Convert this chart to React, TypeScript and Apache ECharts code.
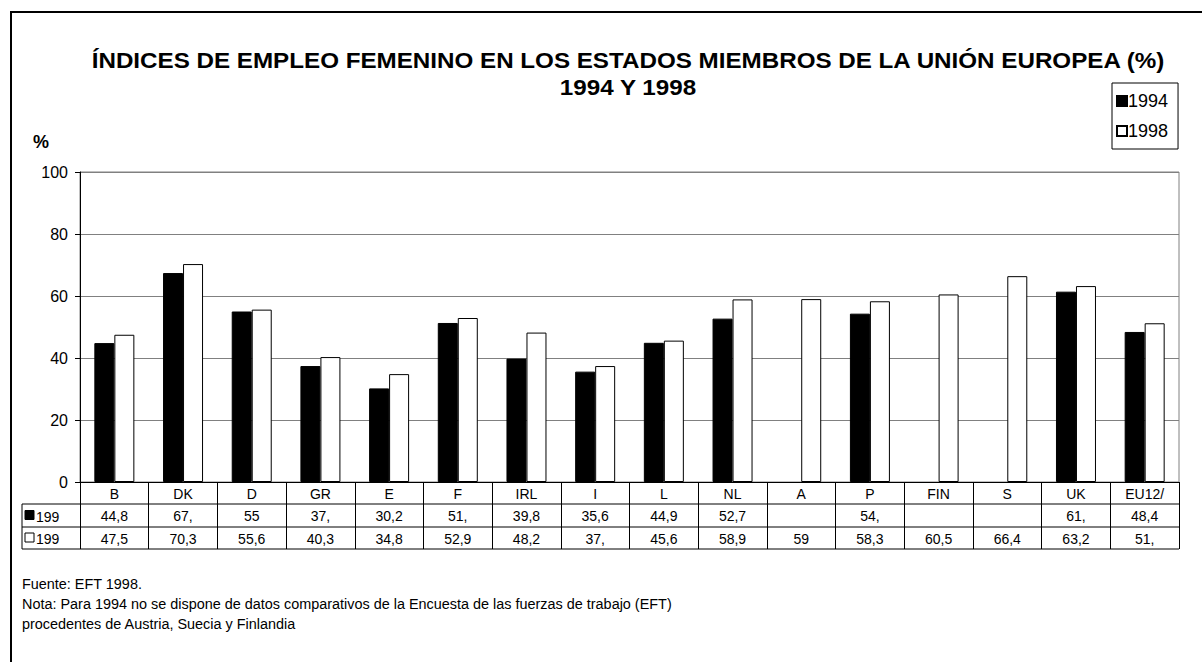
import React, { useEffect, useRef } from "react";
import * as echarts from "echarts";

const categories = ["B", "DK", "D", "GR", "E", "F", "IRL", "I", "L", "NL", "A", "P", "FIN", "S", "UK", "EU12/"];
const values1994 = [44.8, 67.4, 55, 37.4, 30.2, 51.3, 39.8, 35.6, 44.9, 52.7, null, 54.3, null, null, 61.4, 48.4];
const values1998 = [47.5, 70.3, 55.6, 40.3, 34.8, 52.9, 48.2, 37.4, 45.6, 58.9, 59, 58.3, 60.5, 66.4, 63.2, 51.2];
const table1994 = ["44,8", "67,", "55", "37,", "30,2", "51,", "39,8", "35,6", "44,9", "52,7", "", "54,", "", "", "61,", "48,4"];
const table1998 = ["47,5", "70,3", "55,6", "40,3", "34,8", "52,9", "48,2", "37,", "45,6", "58,9", "59", "58,3", "60,5", "66,4", "63,2", "51,"];
const seriesNames = ["1994", "1998"];
const rowLabels = ["199", "199"];
const titleLines = [
  "ÍNDICES DE EMPLEO FEMENINO EN LOS ESTADOS MIEMBROS DE LA UNIÓN EUROPEA (%)",
  "1994 Y 1998",
];
const notes = [
  "Fuente: EFT 1998.",
  "Nota: Para 1994 no se dispone de datos comparativos de la Encuesta de las fuerzas de trabajo (EFT)",
  "procedentes de Austria, Suecia y Finlandia",
];

const FONT = "'Liberation Sans', Arial, Helvetica, sans-serif";

export default function App() {
  const ref = useRef<HTMLDivElement>(null);
  useEffect(() => {
    if (!ref.current) return;
    const chart = echarts.init(ref.current, null, { renderer: "svg" });
    const gridLeft = 80;
    const gridRight = 1179;
    const axisY = 482;
    const rowY = [504, 527, 549];
    const option: any = {
      animation: false,
      backgroundColor: "#fff",
      textStyle: { fontFamily: FONT, color: "#000" },
      grid: {
        left: gridLeft,
        right: 1202 - gridRight,
        top: 172,
        bottom: 662 - axisY,
        show: true,
        borderColor: "#808080",
        borderWidth: 1,
        containLabel: false,
      },
      legend: {
        data: seriesNames,
        orient: "vertical",
        left: 1112,
        top: 83,
        icon: "rect",
        itemWidth: 10,
        itemHeight: 10,
        itemGap: 12,
        padding: [9, 10, 9, 4],
        borderColor: "#000",
        borderWidth: 1,
        textStyle: { fontSize: 18, color: "#000", fontFamily: FONT, padding: [0, 0, 0, -4] },
      },
      xAxis: [
        {
          type: "category",
          data: categories,
          position: "bottom",
          axisLine: { show: true, lineStyle: { color: "#000", width: 1 } },
          axisTick: { show: true, length: rowY[2] - axisY, interval: 0, lineStyle: { color: "#000" } },
          axisLabel: { interval: 0, margin: 5, fontSize: 14, color: "#000", fontFamily: FONT },
        },
        {
          type: "category",
          data: table1994,
          position: "bottom",
          offset: rowY[0] - axisY,
          axisLine: { show: false },
          axisTick: { show: false },
          axisLabel: { interval: 0, margin: 5, fontSize: 14, color: "#000", fontFamily: FONT },
        },
        {
          type: "category",
          data: table1998,
          position: "bottom",
          offset: rowY[1] - axisY,
          axisLine: { show: false },
          axisTick: { show: false },
          axisLabel: { interval: 0, margin: 5, fontSize: 14, color: "#000", fontFamily: FONT },
        },
      ],
      yAxis: {
        type: "value",
        min: 0,
        max: 100,
        interval: 20,
        axisLine: { show: true, lineStyle: { color: "#000", width: 1 } },
        axisTick: { show: true, length: 5, lineStyle: { color: "#000" } },
        axisLabel: { fontSize: 16, color: "#000", margin: 12, fontFamily: FONT },
        splitLine: { show: true, lineStyle: { color: "#808080", width: 1 } },
      },
      series: [
        {
          name: seriesNames[0],
          type: "bar",
          data: values1994,
          barWidth: 20,
          barGap: "0%",
          itemStyle: { color: "#000", borderColor: "#000", borderWidth: 1 },
        },
        {
          name: seriesNames[1],
          type: "bar",
          data: values1998,
          barWidth: 20,
          barGap: "0%",
          itemStyle: { color: "#fff", borderColor: "#000", borderWidth: 1 },
        },
      ],
      graphic: [
        {
          type: "rect",
          shape: { x: 11, y: 12, width: 1200, height: 660 },
          style: { fill: "none", stroke: "#000", lineWidth: 2 },
          silent: true,
        },
        ...titleLines.map((t, i) => ({
          type: "text",
          x: 628,
          y: 60 + i * 27,
          scaleX: 1.1,
          style: {
            text: t,
            fontSize: 22,
            fontWeight: "bold",
            fontFamily: FONT,
            fill: "#000",
            textAlign: "center",
            textVerticalAlign: "middle",
          },
        })),
        {
          type: "text",
          x: 41,
          y: 142,
          style: {
            text: "%",
            fontSize: 18,
            fontWeight: "bold",
            fontFamily: FONT,
            fill: "#000",
            textAlign: "center",
            textVerticalAlign: "middle",
          },
        },
        ...rowY.map((y) => ({
          type: "line",
          shape: { x1: 22, y1: y, x2: gridRight, y2: y },
          style: { stroke: "#000", lineWidth: 1 },
        })),
        {
          type: "line",
          shape: { x1: 22, y1: rowY[0], x2: 22, y2: rowY[2] },
          style: { stroke: "#000", lineWidth: 1 },
        },
        ...rowLabels.map((t, i) => ({
          type: "rect",
          shape: { x: 25, y: (rowY[i] + rowY[i + 1]) / 2 - 5, width: 9, height: 9 },
          style: { fill: i === 0 ? "#000" : "#fff", stroke: "#000", lineWidth: 1 },
        })),
        ...rowLabels.map((t, i) => ({
          type: "text",
          x: 36,
          y: (rowY[i] + rowY[i + 1]) / 2 + 1,
          style: {
            text: t,
            fontSize: 14,
            fontFamily: FONT,
            fill: "#000",
            textAlign: "left",
            textVerticalAlign: "middle",
          },
        })),
        ...notes.map((t, i) => ({
          type: "text",
          x: 22,
          y: 584 + i * 20,
          scaleX: 1.03,
          style: {
            text: t,
            fontSize: 14,
            fontFamily: FONT,
            fill: "#000",
            textAlign: "left",
            textVerticalAlign: "middle",
          },
        })),
      ],
    };
    chart.setOption(option);
    return () => chart.dispose();
  }, []);
  return (
    <div
      ref={ref}
      style={{ position: "absolute", left: 0, top: 0, width: 1202, height: 662, background: "#fff" }}
    />
  );
}
